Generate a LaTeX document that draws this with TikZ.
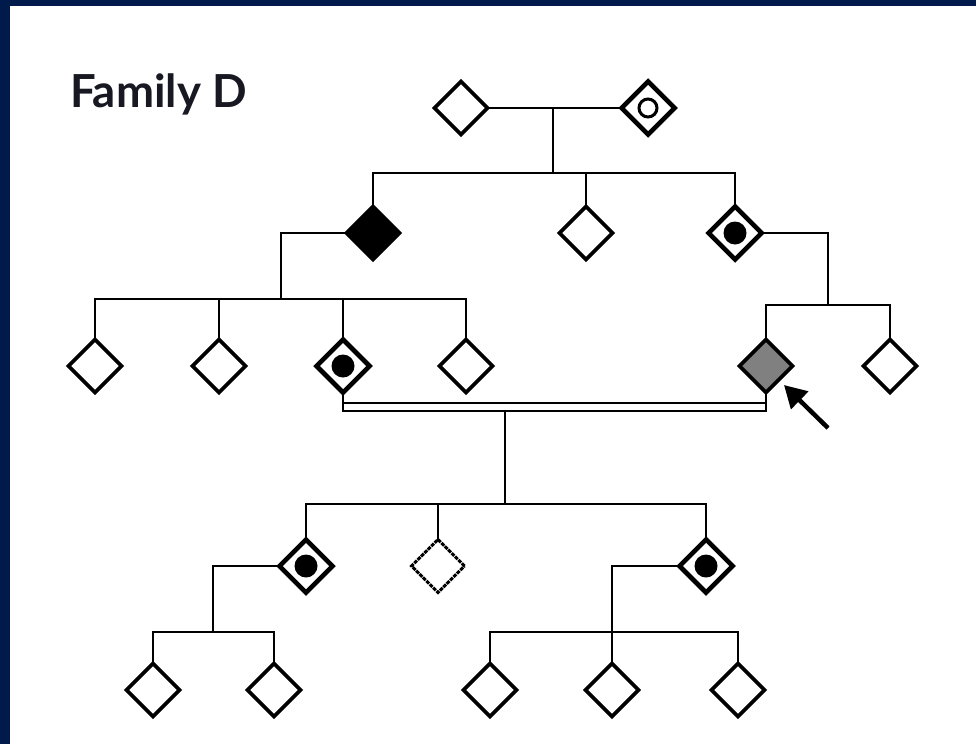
\documentclass[tikz,border=0pt]{standalone}
\usepackage{fontspec}
\setmainfont{Lato}
\usetikzlibrary{shapes.geometric,arrows.meta}
\definecolor{frame}{RGB}{0,26,76}
\definecolor{titleink}{RGB}{24,24,34}
\definecolor{probandgray}{RGB}{128,128,128}
\begin{document}
\begin{tikzpicture}[x=1pt,y=-1pt,
  person/.style={diamond, draw, line width=3.8pt, minimum width=53pt, minimum height=53pt,
                 inner sep=0pt, outer sep=0pt, fill=white},
  affected/.style={person, fill=black},
  proband/.style={person, fill=probandgray},
  carrier/.style={person, line width=4.6pt,
                  path picture={\fill[black] (path picture bounding box.center) circle (11.5pt);}},
  ringcarrier/.style={person, line width=4.6pt,
                  path picture={\draw[black, line width=3pt] (path picture bounding box.center) circle (9pt);}},
  unknown/.style={person, densely dotted, line width=3pt},
  wire/.style={line width=2.4pt},
]
% frame and page
\fill[frame] (0,0) rectangle (976,744);
\fill[white] (10,6) rectangle (976,744);
\useasboundingbox (0,0) rectangle (976,744);

% title
\node[anchor=base west, inner sep=0pt, text=titleink, font=\bfseries\fontsize{45.5}{50}\selectfont]
  (title) at (70,107) {Family D};

% generation I
\node[person] (I1) at (461,108) {};
\node[ringcarrier] (I2) at (648,108) {};
% generation II
\node[affected] (II1) at (373,233) {};
\node[person] (II2) at (586,233) {};
\node[carrier] (II3) at (735,233) {};
% generation III
\node[person] (III1) at (95,366) {};
\node[person] (III2) at (219,366) {};
\node[carrier] (III3) at (343,366) {};
\node[person] (III4) at (466,366) {};
\node[proband] (III5) at (766,366) {};
\node[person] (III6) at (890,366) {};
% generation IV
\node[carrier] (IV1) at (306,566) {};
\node[unknown] (IV2) at (438,566) {};
\node[carrier] (IV3) at (706,566) {};
% generation V
\node[person] (V1) at (153,690) {};
\node[person] (V2) at (274,690) {};
\node[person] (V3) at (490,690) {};
\node[person] (V4) at (612,690) {};
\node[person] (V5) at (738,690) {};

% helper points
\coordinate (m1) at (553,108);
\coordinate (s1) at (553,173);
\coordinate (j1) at (281,233);
\coordinate (s2) at (281,299);
\coordinate (j2) at (828,233);
\coordinate (s3) at (828,305);
\coordinate (cu) at (505,403);
\coordinate (cl) at (505,411);
\coordinate (s4) at (505,504);
\coordinate (j3) at (213,566);
\coordinate (s5) at (213,632);
\coordinate (j4) at (612,566);
\coordinate (ptip) at (784,385);
\coordinate (ptail) at (828,428);

\begin{scope}[wire]
  % couple I1 x I2 and their children
  \draw (I1.east) -- (I2.west);
  \draw (m1) -- (s1);
  \draw (II1.north) -- (II1.north |- s1) -- (II3.north |- s1) -- (II3.north);
  \draw (II2.north) -- (II2.north |- s1);
  % II1 and children
  \draw (II1.west) -- (j1) -- (s2);
  \draw (III1.north) -- (III1.north |- s2) -- (III4.north |- s2) -- (III4.north);
  \draw (III2.north) -- (III2.north |- s2);
  \draw (III3.north) -- (III3.north |- s2);
  % II3 and children
  \draw (II3.east) -- (j2) -- (s3);
  \draw (III5.north) -- (III5.north |- s3) -- (III6.north |- s3) -- (III6.north);
  % consanguineous union III3 x III5
  \draw (III3.south) -- (III3.south |- cl) -- (III5.south |- cl) -- (III5.south);
  \draw (III3.south |- cu) -- (III5.south |- cu);
  \draw (cl) -- (s4);
  \draw (IV1.north) -- (IV1.north |- s4) -- (IV3.north |- s4) -- (IV3.north);
  \draw (IV2.north) -- (IV2.north |- s4);
  % IV1 and children
  \draw (IV1.west) -- (j3) -- (s5);
  \draw (V1.north) -- (V1.north |- s5) -- (V2.north |- s5) -- (V2.north);
  % IV3 and children
  \draw (IV3.west) -- (j4) -- (V4.north);
  \draw (V3.north) -- (V3.north |- s5) -- (V5.north |- s5) -- (V5.north);
\end{scope}

% proband arrow
\draw[line width=4.5pt, -{Triangle[length=22pt, width=24pt]}] (ptail) -- (ptip);
\end{tikzpicture}
\end{document}
